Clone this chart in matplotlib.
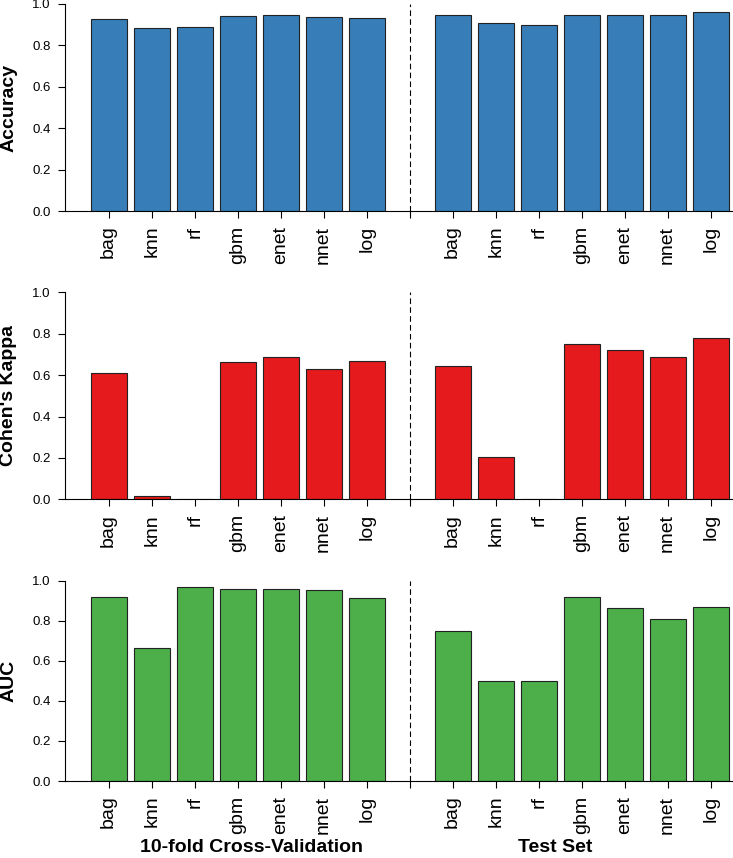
import matplotlib
matplotlib.use('Agg')
import matplotlib.pyplot as plt
import numpy as np

plt.rcParams['font.family'] = ['Liberation Sans', 'DejaVu Sans']

# Données
models = ['bag', 'knn', 'rf', 'gbm', 'enet', 'nnet', 'log']
acc_cv = [0.928, 0.883, 0.889, 0.942, 0.947, 0.937, 0.934]
acc_test = [0.947, 0.910, 0.897, 0.947, 0.947, 0.947, 0.960]
kappa_cv = [0.609, 0.016, 0.0, 0.662, 0.689, 0.628, 0.668]
kappa_test = [0.644, 0.204, 0.0, 0.750, 0.723, 0.687, 0.779]
auc_cv = [0.920, 0.664, 0.969, 0.960, 0.960, 0.952, 0.912]
auc_test = [0.750, 0.500, 0.500, 0.920, 0.862, 0.807, 0.869]

panels = [
    ('Accuracy', acc_cv, acc_test, '#377EB8'),
    ("Cohen's Kappa", kappa_cv, kappa_test, '#E41A1C'),
    ('AUC', auc_cv, auc_test, '#4DAF4A'),
]

W, H = 733, 858
fig = plt.figure(figsize=(W / 100, H / 100), dpi=100)

# positions des axes en pixels (haut du 1.0, bas du 0.0)
boxes = [(4, 211), (292.3, 499.3), (580.7, 781)]
left_px = 65
ax_w = W - left_px

x_cv = np.arange(7)
x_test = np.arange(8, 15)
x_sep = 7

for (label, cv, test, color), (top, bot) in zip(panels, boxes):
    ax = fig.add_axes([left_px / W, 1 - bot / H, ax_w / W, (bot - top) / H])
    ax.bar(x_cv, cv, width=0.84, color=color, edgecolor='#222222', linewidth=0.8)
    ax.bar(x_test, test, width=0.84, color=color, edgecolor='#222222', linewidth=0.8)
    ax.plot([x_sep, x_sep], [0, 1], color='black', linestyle=(0, (5, 3)), linewidth=0.8)

    ax.set_xlim(-1.016, 14.52)
    ax.set_ylim(0, 1.0)
    ax.spines['top'].set_visible(False)
    ax.spines['right'].set_visible(False)
    ax.spines['left'].set_bounds(0, 1)
    ax.spines['left'].set_linewidth(0.8)
    ax.spines['bottom'].set_linewidth(0.8)

    ax.set_yticks(np.arange(0, 1.01, 0.2))
    ax.set_yticklabels([f'{v:.1f}' for v in np.arange(0, 1.01, 0.2)], fontsize=9.5)
    ticks = list(x_cv) + [x_sep] + list(x_test)
    ax.set_xticks(ticks)
    ax.set_xticklabels(models + [''] + models, rotation=90, fontsize=14)
    ax.tick_params(axis='both', length=5, width=0.8, pad=5.5)

    ax.set_ylabel(label, fontsize=14, fontweight='bold')
    ax.yaxis.label.set_va('center')
    ax.yaxis.set_label_coords((9 - left_px) / ax_w, 0.5)

# titres des deux blocs sous le dernier panneau
fig.text(251.7 / W, 5.5 / H, '10-fold Cross-Validation', ha='center', va='baseline',
         fontsize=14, fontweight='bold')
fig.text(555 / W, 5.5 / H, 'Test Set', ha='center', va='baseline',
         fontsize=14, fontweight='bold')

plt.savefig('out.png', dpi=100)
plt.close()
